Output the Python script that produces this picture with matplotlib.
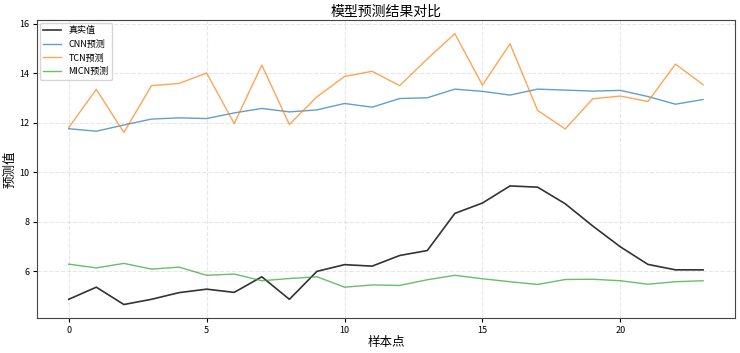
import numpy as np
import matplotlib
matplotlib.use('Agg')
import matplotlib.pyplot as plt

plt.rcParams['font.family'] = ['Noto Sans CJK SC', 'DejaVu Sans']
plt.rcParams['axes.unicode_minus'] = False

x = np.arange(24)
real = [4.86, 5.35, 4.65, 4.86, 5.13, 5.27, 5.14, 5.77, 4.86, 5.99, 6.26, 6.20,
        6.63, 6.83, 8.33, 8.75, 9.44, 9.39, 8.72, 7.82, 6.98, 6.27, 6.05, 6.05]
cnn = [11.75, 11.65, 11.90, 12.14, 12.19, 12.16, 12.39, 12.57, 12.43, 12.51, 12.77, 12.62,
       12.97, 13.00, 13.35, 13.26, 13.11, 13.35, 13.31, 13.27, 13.30, 13.05, 12.74, 12.93]
tcn = [11.80, 13.34, 11.60, 13.49, 13.58, 14.00, 11.96, 14.32, 11.92, 13.04, 13.86, 14.07,
       13.49, 14.57, 15.59, 13.51, 15.18, 12.49, 11.74, 12.96, 13.07, 12.85, 14.36, 13.53]
micn = [6.28, 6.13, 6.31, 6.08, 6.16, 5.83, 5.88, 5.61, 5.70, 5.77, 5.35, 5.44,
        5.42, 5.65, 5.83, 5.69, 5.57, 5.46, 5.66, 5.67, 5.61, 5.47, 5.57, 5.61]

fig, ax = plt.subplots(figsize=(7.4, 3.53), dpi=100)
fig.subplots_adjust(left=0.05, right=0.993, top=0.943, bottom=0.099)

ax.plot(x, real, color='black', linewidth=1.2, alpha=0.8, label='真实值')
ax.plot(x, cnn, color='#1f77b4', linewidth=1.0, alpha=0.7, label='CNN预测')
ax.plot(x, tcn, color='#ff7f0e', linewidth=1.0, alpha=0.7, label='TCN预测')
ax.plot(x, micn, color='#2ca02c', linewidth=1.0, alpha=0.7, label='MICN预测')

ax.set_title('模型预测结果对比', fontsize=10, pad=3)
ax.set_xlabel('样本点', fontsize=9, labelpad=1)
ax.set_ylabel('预测值', fontsize=9)
ax.yaxis.set_label_coords(-0.029, 0.5)
ax.tick_params(labelsize=6.5, length=3, pad=2.5)
ax.grid(True, linestyle='--', alpha=0.3)
ax.legend(loc='upper left', fontsize=6.5, borderaxespad=0.3)
for s in ax.spines.values():
    s.set_color('#444444')

plt.savefig('out.png')
